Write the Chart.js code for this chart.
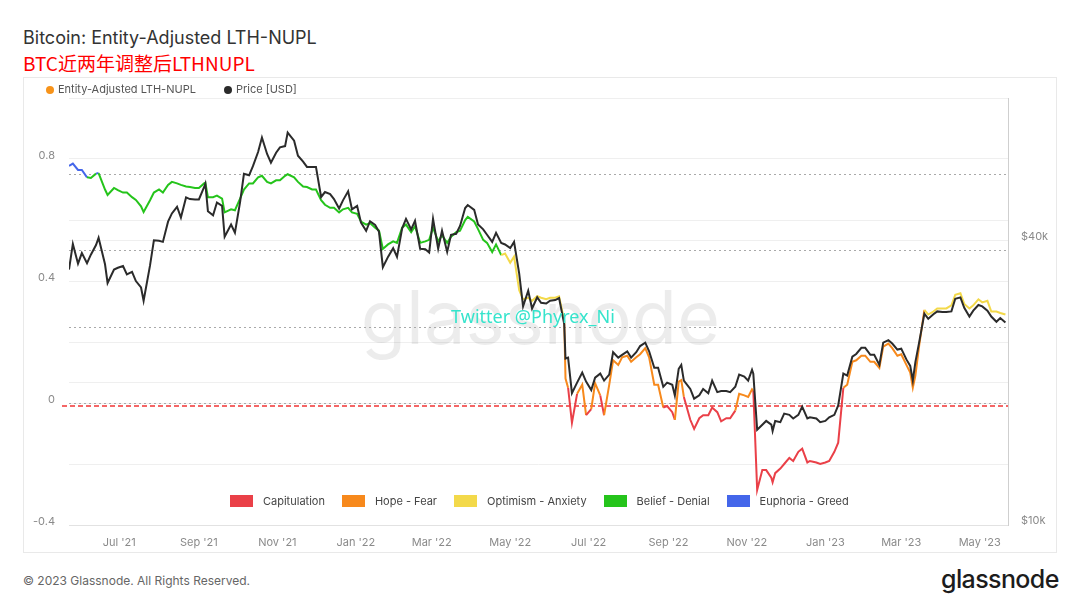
<!DOCTYPE html>
<html>
<head>
<meta charset="utf-8">
<script src="https://cdn.jsdelivr.net/npm/chart.js@4.4.1/dist/chart.umd.min.js"></script>
<style>
  body { margin: 0; width: 1080px; height: 608px; background: #fff; position: relative; overflow: hidden;
         font-family: Inter, 'Noto Sans', sans-serif; }
  #title { position: absolute; left: 23px; top: 27px; font-size: 18px; color: #333; }
  #sub { position: absolute; left: 23px; top: 49px; font-size: 19px; color: #ff0000; font-family: 'Noto Sans CJK SC'; }
  #frame { position: absolute; left: 23px; top: 77px; width: 1032px; height: 474px; border: 1px solid #e9e9e9; }
  #wrap { position: absolute; left: 23px; top: 77px; width: 1034px; height: 476px; }
  #topLegend { position: absolute; left: 46px; top: 82px; font-size: 11px; color: #555; display: flex; gap: 28px; }
  #topLegend span.dot { display: inline-block; width: 8px; height: 8px; border-radius: 50%; margin-right: 4px; vertical-align: -0.5px; }
  #zoneLegend { position: absolute; left: 230px; top: 494px; font-size: 11px; color: #444; display: flex; gap: 17px; }
  #zoneLegend span.box { display: inline-block; width: 23px; height: 12px; margin-right: 10px; vertical-align: -2px; }
  #foot { position: absolute; left: 23px; top: 573px; font-size: 12px; color: #666; }
  #logo { position: absolute; left: 941px; top: 564px; font-size: 25px; font-weight: 500; color: #1c1c1c; letter-spacing: -0.6px; }
</style>
</head>
<body>
<div id="title">Bitcoin: Entity-Adjusted LTH-NUPL</div>
<div id="sub">BTC近两年调整后LTHNUPL</div>
<div id="frame"></div>
<div id="wrap"><canvas id="chart"></canvas></div>
<div id="topLegend"></div>
<div id="zoneLegend"></div>
<div id="foot">© 2023 Glassnode. All Rights Reserved.</div>
<div id="logo">glassnode</div>
<script>
// sample dates, roughly twice a week (one line per month)
const dates = [
  '2021-05-23','2021-05-26','2021-05-30',
  '2021-06-02','2021-06-06','2021-06-09','2021-06-13','2021-06-15','2021-06-20','2021-06-22','2021-06-27','2021-06-30',
  '2021-07-04','2021-07-07','2021-07-11','2021-07-14','2021-07-18','2021-07-20','2021-07-25','2021-07-28',
  '2021-08-01','2021-08-04','2021-08-08','2021-08-11','2021-08-15','2021-08-18','2021-08-22','2021-08-25','2021-08-29',
  '2021-09-01','2021-09-05','2021-09-06','2021-09-08','2021-09-12','2021-09-15','2021-09-19','2021-09-21','2021-09-26','2021-09-29',
  '2021-10-03','2021-10-06','2021-10-10','2021-10-13','2021-10-17','2021-10-20','2021-10-24','2021-10-27','2021-10-31',
  '2021-11-03','2021-11-07','2021-11-09','2021-11-14','2021-11-17','2021-11-21','2021-11-24','2021-11-28',
  '2021-12-01','2021-12-05','2021-12-08','2021-12-12','2021-12-15','2021-12-19','2021-12-22','2021-12-26','2021-12-29',
  '2022-01-02','2022-01-05','2022-01-09','2022-01-12','2022-01-16','2022-01-19','2022-01-22','2022-01-26','2022-01-30',
  '2022-02-02','2022-02-06','2022-02-09','2022-02-13','2022-02-16','2022-02-20','2022-02-24','2022-02-27',
  '2022-03-02','2022-03-06','2022-03-09','2022-03-13','2022-03-16','2022-03-20','2022-03-23','2022-03-27','2022-03-29',
  '2022-04-03','2022-04-06','2022-04-10','2022-04-13','2022-04-17','2022-04-20','2022-04-24','2022-04-27',
  '2022-05-01','2022-05-04','2022-05-08','2022-05-11','2022-05-15','2022-05-18','2022-05-22','2022-05-25','2022-05-29',
  '2022-06-01','2022-06-05','2022-06-08','2022-06-12','2022-06-13','2022-06-15','2022-06-18','2022-06-22','2022-06-26','2022-06-29',
  '2022-07-03','2022-07-06','2022-07-10','2022-07-13','2022-07-17','2022-07-20','2022-07-24','2022-07-27','2022-07-31',
  '2022-08-03','2022-08-07','2022-08-10','2022-08-14','2022-08-17','2022-08-21','2022-08-24','2022-08-28','2022-08-31',
  '2022-09-04','2022-09-06','2022-09-09','2022-09-11','2022-09-13','2022-09-18','2022-09-21','2022-09-25','2022-09-28',
  '2022-10-02','2022-10-05','2022-10-09','2022-10-12','2022-10-16','2022-10-19','2022-10-23','2022-10-26','2022-10-30',
  '2022-11-02','2022-11-05','2022-11-06','2022-11-09','2022-11-13','2022-11-16','2022-11-20','2022-11-21','2022-11-23','2022-11-27','2022-11-30',
  '2022-12-04','2022-12-07','2022-12-11','2022-12-14','2022-12-18','2022-12-20','2022-12-25','2022-12-28',
  '2023-01-01','2023-01-04','2023-01-08','2023-01-11','2023-01-15','2023-01-18','2023-01-22','2023-01-25','2023-01-29',
  '2023-02-01','2023-02-05','2023-02-08','2023-02-12','2023-02-15','2023-02-19','2023-02-22','2023-02-26',
  '2023-03-01','2023-03-05','2023-03-08','2023-03-10','2023-03-12','2023-03-15','2023-03-19','2023-03-22','2023-03-26','2023-03-29',
  '2023-04-02','2023-04-05','2023-04-09','2023-04-12','2023-04-16','2023-04-19','2023-04-23','2023-04-26','2023-04-30',
  '2023-05-03','2023-05-07','2023-05-10','2023-05-14','2023-05-17','2023-05-21'];

const lthNupl = [
  0.777,0.785,0.764,
  0.764,0.74,0.738,0.752,0.754,0.70,0.682,0.705,0.698,
  0.69,0.69,0.675,0.666,0.645,0.626,0.665,0.69,
  0.70,0.69,0.715,0.725,0.72,0.715,0.71,0.708,0.705,
  0.705,0.72,0.722,0.675,0.675,0.68,0.67,0.625,0.635,0.632,
  0.67,0.70,0.72,0.72,0.74,0.745,0.725,0.72,0.73,
  0.73,0.745,0.75,0.74,0.725,0.71,0.708,0.70,
  0.70,0.665,0.65,0.64,0.64,0.625,0.635,0.64,0.625,
  0.62,0.595,0.585,0.59,0.575,0.565,0.505,0.52,0.53,
  0.525,0.575,0.585,0.56,0.58,0.525,0.53,0.535,
  0.575,0.53,0.55,0.525,0.545,0.56,0.565,0.60,0.61,
  0.595,0.57,0.535,0.525,0.495,0.52,0.485,0.49,
  0.46,0.48,0.37,0.34,0.345,0.335,0.35,0.345,0.34,
  0.345,0.345,0.35,0.27,0.08,0.05,-0.065,0.03,0.06,-0.04,
  -0.02,0.065,0.025,-0.04,0.06,0.14,0.125,0.15,0.155,
  0.135,0.15,0.16,0.18,0.15,0.06,0.06,-0.015,-0.01,
  -0.03,-0.055,0.07,0.075,0.02,-0.055,-0.085,-0.05,-0.04,
  -0.04,-0.015,-0.03,-0.06,-0.05,-0.05,-0.025,0.03,0.025,
  0.02,0.045,0.04,-0.285,-0.22,-0.22,-0.245,-0.26,-0.23,-0.215,-0.2,
  -0.18,-0.19,-0.16,-0.15,-0.195,-0.19,-0.195,-0.2,
  -0.195,-0.19,-0.16,-0.13,0.05,0.06,0.135,0.14,0.155,
  0.155,0.135,0.135,0.115,0.185,0.195,0.18,0.155,
  0.16,0.125,0.1,0.05,0.09,0.19,0.305,0.29,0.30,0.31,
  0.31,0.31,0.32,0.355,0.36,0.325,0.31,0.32,0.34,
  0.33,0.335,0.30,0.30,0.295,0.29];

// BTC price, thousands of USD
const priceK = [
  34.7,39.3,35.7,
  37.6,35.8,37.3,39.1,40.5,35.6,32.5,34.7,35.0,
  35.3,33.9,34.3,32.8,31.8,29.8,35.4,40.0,
  39.9,39.7,43.8,45.6,47.1,44.7,49.3,48.9,48.8,
  48.8,51.8,52.7,46.1,45.2,48.1,47.3,40.7,43.2,41.5,
  48.2,55.3,54.9,57.4,61.5,66.0,60.9,58.4,61.3,
  62.9,63.3,67.6,65.0,60.4,58.7,57.2,57.2,
  57.2,49.4,50.6,50.1,48.9,46.7,48.6,50.8,46.5,
  47.3,43.6,41.9,43.9,43.1,41.7,35.1,36.9,38.5,
  36.9,42.4,44.4,42.2,44.0,38.4,38.3,37.7,
  44.4,38.4,41.9,37.8,41.1,41.3,42.9,46.8,47.5,
  46.4,43.2,42.2,41.1,39.7,41.5,39.5,39.2,
  38.5,39.7,34.0,29.0,31.3,28.7,30.3,29.5,29.4,
  29.8,29.9,30.2,26.6,22.5,22.6,19.0,20.0,21.0,20.1,
  19.3,20.5,20.9,20.2,20.8,23.2,22.6,22.9,23.3,
  22.6,23.2,23.9,24.3,23.3,21.5,21.5,19.6,20.0,
  19.8,18.8,21.4,21.8,20.2,19.4,18.5,18.8,19.4,
  19.0,20.2,19.1,19.2,19.2,19.1,19.6,20.8,20.6,
  20.2,21.3,20.9,15.9,16.3,16.6,16.3,15.8,16.6,16.5,17.2,
  17.1,16.8,17.1,17.8,16.8,16.9,16.8,16.5,
  16.6,16.9,17.1,17.9,20.9,20.7,22.7,23.0,23.7,
  23.7,22.9,22.9,21.8,24.3,24.6,24.2,23.5,
  23.6,22.4,21.7,20.2,22.1,24.4,28.0,27.3,27.9,28.3,
  28.2,28.2,28.3,30.1,30.3,28.8,27.6,28.4,29.2,
  29.0,28.4,27.6,26.9,27.4,26.8];

const tickDates = ['2021-07-01','2021-09-01','2021-11-01','2022-01-01','2022-03-01','2022-05-01',
  '2022-07-01','2022-09-01','2022-11-01','2023-01-01','2023-03-01','2023-05-01'];
const tickLabels = ["Jul '21","Sep '21","Nov '21","Jan '22","Mar '22","May '22",
  "Jul '22","Sep '22","Nov '22","Jan '23","Mar '23","May '23"];

const zoneNames = ['Capitulation','Hope - Fear','Optimism - Anxiety','Belief - Denial','Euphoria - Greed'];
const zoneLimits = [0, 0.25, 0.5, 0.75];
const priceTicks = [10000, 20000, 40000, 80000];
const startDate = '2021-05-23', endDate = '2023-05-23';

const zoneColors = ['#ea4048', '#f7891c', '#f3d94a', '#25c41b', '#4466ea'];

function dayOf(s) { return (Date.parse(s) - Date.parse(startDate)) / 86400000; }
function zoneColor(v) {
  let i = 0;
  while (i < zoneLimits.length && v >= zoneLimits[i]) i++;
  return zoneColors[i];
}

// legends
document.getElementById('topLegend').innerHTML =
  '<div><span class="dot" style="background:#f7931a"></span>Entity-Adjusted LTH-NUPL</div>' +
  '<div><span class="dot" style="background:#2b2b2b"></span>Price [USD]</div>';
document.getElementById('zoneLegend').innerHTML = zoneNames.map((n, i) =>
  '<div><span class="box" style="background:' + zoneColors[i] + '"></span>' + n + '</div>').join('');

const marks = {
  id: 'marks',
  beforeDatasetsDraw(chart) {
    const {ctx, chartArea: a, scales} = chart;
    ctx.save();
    ctx.font = '74px Inter';
    ctx.fillStyle = 'rgba(0,0,0,0.075)';
    ctx.textAlign = 'center';
    ctx.fillText('glassnode', (a.left + a.right) / 2 + 2, 267);

    ctx.strokeStyle = '#a9a9a9';
    ctx.lineWidth = 1;
    ctx.setLineDash([2, 3]);
    zoneLimits.forEach(t => {
      const py = Math.round(scales.y.getPixelForValue(t)) + 0.5;
      ctx.beginPath(); ctx.moveTo(a.left, py); ctx.lineTo(a.right, py); ctx.stroke();
    });
    // red dashed zero line
    const zy = scales.y.getPixelForValue(0) + 3;
    ctx.strokeStyle = 'rgba(240,30,30,0.9)';
    ctx.lineWidth = 1.3;
    ctx.setLineDash([5, 3]);
    ctx.beginPath(); ctx.moveTo(a.left - 7, zy); ctx.lineTo(a.right, zy); ctx.stroke();
    ctx.restore();
  },
  afterDatasetsDraw(chart) {
    const {ctx} = chart;
    ctx.save();
    ctx.font = '18px "Noto Sans"';
    ctx.fillStyle = '#36e4cc';
    ctx.textAlign = 'center';
    ctx.textBaseline = 'middle';
    ctx.fillText('Twitter @Phyrex_Ni', 510, 241);
    ctx.restore();
  }
};

const tickFont = {family: 'Inter', size: 11};

new Chart(document.getElementById('chart'), {
  type: 'line',
  data: {
    datasets: [{
      label: 'Price [USD]',
      data: dates.map((d, i) => ({x: dayOf(d), y: priceK[i] * 1000})),
      yAxisID: 'y2',
      borderColor: '#2b2b2b',
      borderWidth: 2,
      pointRadius: 0,
      tension: 0,
      order: 0
    }, {
      label: 'Entity-Adjusted LTH-NUPL',
      data: dates.map((d, i) => ({x: dayOf(d), y: lthNupl[i]})),
      yAxisID: 'y',
      borderColor: '#f7931a',
      borderWidth: 2,
      pointRadius: 0,
      tension: 0,
      order: 1,
      segment: {
        borderColor: c => zoneColor((c.p0.parsed.y + c.p1.parsed.y) / 2)
      }
    }]
  },
  options: {
    responsive: true,
    maintainAspectRatio: false,
    animation: false,
    layout: {padding: {top: 21, left: 0, right: 0, bottom: 0}},
    plugins: {legend: {display: false}, tooltip: {enabled: false}},
    scales: {
      x: {
        type: 'linear',
        min: 0,
        max: dayOf(endDate),
        grid: {display: false},
        border: {color: '#e2e2e2'},
        afterBuildTicks: s => { s.ticks = tickDates.map(d => ({value: dayOf(d)})); },
        afterFit: s => { s.height = 28; },
        ticks: {
          autoSkip: false, maxRotation: 0, padding: 3, color: '#8a8a8a', font: tickFont,
          callback: v => tickLabels[tickDates.findIndex(d => dayOf(d) === v)]
        }
      },
      y: {
        position: 'left',
        min: -0.4,
        max: 1.0,
        grid: {color: '#efefef', drawTicks: false},
        border: {display: false},
        afterFit: s => { s.width = 46; },
        ticks: {
          stepSize: 0.2, padding: 14, labelOffset: -3, color: '#8a8a8a', font: tickFont,
          callback: v => {
            const r = Math.round(v * 10);
            if (r % 4 !== 0) return '';
            return r === 0 ? '0' : (r / 10).toFixed(1);
          }
        }
      },
      y2: {
        type: 'logarithmic',
        position: 'right',
        min: 10000,
        max: 80000,
        grid: {color: '#efefef', drawTicks: false},
        border: {display: true, color: '#cfcfcf'},
        afterBuildTicks: s => { s.ticks = priceTicks.map(v => ({value: v})); },
        afterFit: s => { s.width = 49; },
        ticks: {
          padding: 13, labelOffset: -4, color: '#8a8a8a', font: tickFont,
          callback: v => (v === 10000 || v === 40000) ? '$' + v / 1000 + 'k' : ''
        }
      }
    }
  },
  plugins: [marks]
});
</script>
</body>
</html>
